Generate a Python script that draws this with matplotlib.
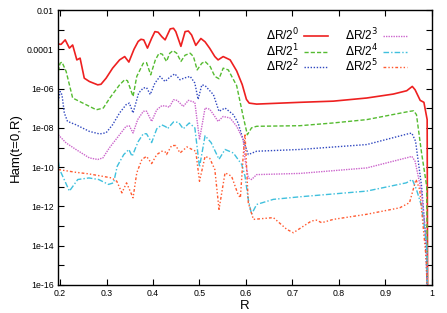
import numpy as np
import matplotlib
matplotlib.use("Agg")
import matplotlib.pyplot as plt
from matplotlib.ticker import FixedLocator, FixedFormatter

plt.rcParams["font.family"] = ["Liberation Sans", "DejaVu Sans"]

# log10(Ham), one series per resolution dR/2^k
r0 = [0.196, 0.202, 0.211, 0.220, 0.227, 0.236, 0.243, 0.252, 0.263, 0.281, 0.288, 0.299,
      0.313, 0.328, 0.339, 0.348, 0.359, 0.368, 0.374, 0.380, 0.388, 0.397, 0.404, 0.411,
      0.419, 0.426, 0.437, 0.444, 0.449, 0.460, 0.469, 0.476, 0.483, 0.492, 0.503, 0.512,
      0.522, 0.533, 0.540, 0.551, 0.566, 0.580, 0.592, 0.601, 0.607, 0.623, 0.716, 0.788,
      0.860, 0.917, 0.946, 0.958, 0.964, 0.975, 0.983, 0.990, 0.991]
h0 = [-3.73, -3.75, -3.52, -3.94, -3.78, -4.54, -4.45, -5.47, -5.64, -5.81, -5.78, -5.47,
      -4.96, -4.54, -4.37, -4.65, -4.00, -3.60, -3.49, -3.52, -3.94, -3.44, -3.10, -3.13,
      -3.36, -3.52, -2.96, -2.93, -3.10, -3.85, -3.10, -3.07, -3.27, -3.80, -3.45, -3.62,
      -3.95, -4.37, -4.54, -4.37, -4.54, -5.10, -5.80, -6.55, -6.74, -6.79, -6.70, -6.64,
      -6.48, -6.28, -6.11, -5.89, -6.06, -6.60, -6.70, -7.58, -17.0]

r1 = [0.196, 0.200, 0.204, 0.213, 0.227, 0.249, 0.278, 0.293, 0.307, 0.328, 0.339, 0.345,
      0.357, 0.365, 0.379, 0.386, 0.395, 0.405, 0.413, 0.420, 0.429, 0.436, 0.443, 0.451,
      0.460, 0.469, 0.480, 0.487, 0.495, 0.505, 0.512, 0.523, 0.533, 0.542, 0.551, 0.562,
      0.580, 0.594, 0.603, 0.612, 0.623, 0.716, 0.788, 0.860, 0.952, 0.961, 0.967, 0.978,
      0.989, 0.991]
h1 = [-5.13, -4.71, -4.65, -5.13, -6.48, -6.74, -7.08, -6.99, -6.48, -5.81, -5.55, -5.60,
      -6.40, -5.38, -4.71, -4.68, -5.30, -4.54, -4.20, -4.25, -4.62, -4.20, -4.07, -4.20,
      -4.62, -4.30, -4.20, -4.37, -5.05, -4.71, -4.62, -4.88, -5.38, -5.50, -4.96, -5.05,
      -5.85, -7.42, -8.35, -8.00, -7.92, -7.89, -7.75, -7.58, -7.16, -7.13, -7.33, -9.28,
      -10.97, -17.0]

r2 = [0.196, 0.200, 0.204, 0.209, 0.216, 0.234, 0.263, 0.285, 0.299, 0.313, 0.328, 0.342,
      0.349, 0.357, 0.369, 0.379, 0.386, 0.394, 0.404, 0.415, 0.426, 0.437, 0.447, 0.458,
      0.469, 0.480, 0.490, 0.497, 0.505, 0.512, 0.530, 0.542, 0.555, 0.573, 0.583, 0.594,
      0.605, 0.623, 0.716, 0.860, 0.951, 0.957, 0.965, 0.978, 0.986, 0.991]
h2 = [-6.65, -6.15, -6.31, -7.24, -7.67, -7.84, -8.18, -8.31, -8.25, -7.84, -7.24, -6.82,
      -6.74, -7.24, -6.23, -5.97, -5.95, -6.30, -5.72, -5.38, -5.64, -5.40, -5.25, -5.55,
      -5.45, -5.38, -5.72, -6.55, -5.81, -5.85, -6.31, -7.16, -6.99, -7.33, -7.75, -8.60,
      -9.36, -9.19, -9.10, -8.85, -8.29, -8.27, -8.68, -10.97, -13.34, -17.0]

r3 = [0.196, 0.213, 0.234, 0.263, 0.281, 0.292, 0.306, 0.328, 0.342, 0.349, 0.357, 0.367,
      0.379, 0.386, 0.397, 0.408, 0.419, 0.430, 0.435, 0.444, 0.452, 0.465, 0.476, 0.490,
      0.500, 0.512, 0.522, 0.533, 0.540, 0.551, 0.566, 0.580, 0.594, 0.598, 0.605, 0.612,
      0.623, 0.716, 0.860, 0.950, 0.957, 0.964, 0.978, 0.989, 0.991]
h3 = [-8.35, -8.77, -9.10, -9.53, -9.61, -9.53, -9.02, -8.35, -7.92, -7.90, -8.26, -7.58,
      -7.16, -7.15, -7.67, -7.08, -6.87, -6.90, -6.95, -6.57, -6.60, -6.91, -6.60, -6.70,
      -8.60, -6.99, -7.05, -7.42, -7.67, -7.42, -7.50, -7.92, -8.60, -9.61, -10.55, -10.63,
      -10.38, -10.32, -10.04, -9.50, -9.45, -9.70, -11.30, -14.00, -17.0]

r4 = [0.196, 0.199, 0.220, 0.238, 0.262, 0.283, 0.304, 0.315, 0.323, 0.337, 0.348, 0.355,
      0.368, 0.379, 0.386, 0.397, 0.408, 0.419, 0.428, 0.431, 0.444, 0.455, 0.465, 0.478,
      0.490, 0.500, 0.512, 0.525, 0.542, 0.555, 0.573, 0.591, 0.598, 0.605, 0.612, 0.623,
      0.659, 0.716, 0.860, 0.945, 0.958, 0.967, 0.978, 0.989, 0.991]
h4 = [-9.70, -10.12, -11.22, -10.63, -10.55, -10.63, -10.88, -10.80, -9.95, -9.36, -9.10, -9.45,
      -8.70, -8.30, -8.30, -8.75, -8.05, -7.85, -7.95, -8.05, -7.70, -7.72, -8.05, -7.75,
      -8.00, -10.00, -8.40, -8.75, -9.60, -9.10, -9.28, -9.87, -10.46, -11.64, -12.40, -11.90,
      -11.64, -11.51, -11.22, -10.80, -10.63, -11.14, -11.98, -14.00, -17.0]

r5 = [0.196, 0.233, 0.261, 0.290, 0.311, 0.322, 0.333, 0.343, 0.357, 0.365, 0.376, 0.386,
      0.397, 0.408, 0.419, 0.426, 0.429, 0.440, 0.449, 0.458, 0.473, 0.484, 0.492, 0.500,
      0.512, 0.522, 0.533, 0.542, 0.555, 0.569, 0.583, 0.588, 0.594, 0.598, 0.605, 0.616,
      0.659, 0.688, 0.702, 0.741, 0.752, 0.763, 0.788, 0.860, 0.931, 0.952, 0.966, 0.974,
      0.988, 0.991]
h5 = [-10.12, -10.26, -10.34, -10.46, -10.55, -10.72, -11.31, -10.80, -11.56, -10.29, -9.61, -9.45,
      -9.82, -9.36, -9.19, -9.22, -9.36, -8.90, -8.90, -9.28, -8.97, -9.10, -9.19, -10.72,
      -9.45, -9.55, -10.12, -12.15, -10.29, -10.46, -11.39, -11.56, -9.45, -8.30, -11.81, -12.66,
      -12.57, -13.17, -13.34, -12.74, -12.70, -12.83, -12.66, -12.40, -12.07, -11.81, -10.63, -11.14,
      -14.70, -17.0]

labels = [r"$\Delta$R/2$^{%d}$" % k for k in range(6)]
colors = ["#ee2020", "#55bb30", "#3048c0", "#cc66cc", "#40c0dd", "#ff5a30"]
dashes = [None, (3, 1.5), (1, 1.2), (1, 0.8), (4, 1.5, 1, 1.5), (2, 1.5, 1, 1.5, 1, 1.5)]
widths = [1.2, 1.0, 1.0, 1.0, 1.0, 1.0]

y_ticks = [1e-2, 1e-4, 1e-6, 1e-8, 1e-10, 1e-12, 1e-14, 1e-16]
y_tick_labels = ["0.01", "0.0001", "1e-06", "1e-08", "1e-10", "1e-12", "1e-14", "1e-16"]
y_minor = [1e-3, 1e-5, 1e-7, 1e-9, 1e-11, 1e-13, 1e-15]
x_ticks = [0.2, 0.3, 0.4, 0.5, 0.6, 0.7, 0.8, 0.9, 1.0]
x_tick_labels = ["0.2", "0.3", "0.4", "0.5", "0.6", "0.7", "0.8", "0.9", "1"]

fig = plt.figure(figsize=(4.47, 3.13), dpi=100)
ax = fig.add_axes([0.130, 0.0895, 0.836, 0.8785])

series = [(r0, h0), (r1, h1), (r2, h2), (r3, h3), (r4, h4), (r5, h5)]
for (r, h), lab, c, d, w in zip(series, labels, colors, dashes, widths):
    line, = ax.plot(r, 10.0 ** np.array(h), color=c, lw=w, label=lab)
    if d is not None:
        line.set_dashes(d)

ax.set_yscale("log")
ax.set_xlim(0.1957, 1.0)
ax.set_ylim(1e-16, 1e-2)
ax.yaxis.set_major_locator(FixedLocator(y_ticks))
ax.yaxis.set_major_formatter(FixedFormatter(y_tick_labels))
ax.yaxis.set_minor_locator(FixedLocator(y_minor))
ax.yaxis.set_minor_formatter(FixedFormatter([]))
ax.set_xticks(x_ticks)
ax.set_xticklabels(x_tick_labels)
ax.tick_params(which="both", direction="in", top=True, right=True, labelsize=6.3,
               width=0.8, length=4)
ax.tick_params(which="major", pad=3)
for s in ax.spines.values():
    s.set_linewidth(1.0)

ax.set_xlabel("R", fontsize=9.5, labelpad=1)
ax.set_ylabel("Ham(t=0,R)", fontsize=9.5, labelpad=4)

ax.legend(ncol=2, loc="upper right", bbox_to_anchor=(0.95, 0.96), frameon=False,
          markerfirst=False, fontsize=8.6, handlelength=2.0, columnspacing=1.4,
          labelspacing=-0.1, handletextpad=0.4, borderpad=0)

fig.savefig("out.png", dpi=100)
